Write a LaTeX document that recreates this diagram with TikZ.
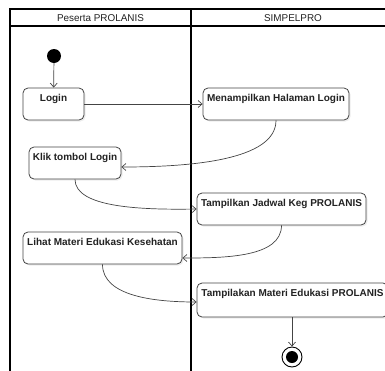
\documentclass[tikz,border=0pt]{standalone}
\usepackage{fontspec}
\setmainfont{Liberation Sans}
\usetikzlibrary{arrows.meta,shadows}
\definecolor{txt}{HTML}{222222}
\definecolor{edge}{HTML}{444444}
\tikzset{
  act/.style={draw=edge, line width=0.8pt, rounded corners=5pt, fill=white,
    drop shadow={shadow xshift=1.5pt, shadow yshift=-1.5pt, opacity=0.15},
    font=\fontsize{10}{12}\selectfont\bfseries, text=txt,
    inner xsep=2pt, inner ysep=3pt, text height=10pt, text depth=16pt},
  flow/.style={draw=edge, line width=0.7pt, -{Straight Barb[length=4pt,width=7pt]}},
  lane/.style={draw=black, line width=1.1pt},
  hdr/.style={font=\fontsize{9.9}{12}\selectfont, text=txt}
}
\begin{document}
\begin{tikzpicture}[x=1pt,y=-1pt]
\useasboundingbox (0,0) rectangle (385,370);
\clip (0,0) rectangle (385,370);
% swimlane frame
\draw[lane] (10,380) -- (10,9) -- (395,9) -- (395,380);
\draw[lane] (10,26) -- (395,26);
\draw[lane] (191,9) -- (191,380);
\node[hdr] (h1) at (100.5,18) {Peserta PROLANIS};
\node[hdr] (h2) at (293,18) {SIMPELPRO};
% nodes
\node[circle, fill=black, minimum size=14pt, inner sep=0pt] (start) at (54,56) {};
\node[act, minimum width=61pt] (login) at (53.5,104) {Login};
\node[act, minimum width=146pt] (mhl) at (276,104) {Menampilkan Halaman Login};
\node[act, minimum width=92pt] (klik) at (75,163) {Klik tombol Login};
\node[act, minimum width=169pt] (jadwal) at (281.5,209) {Tampilkan Jadwal Keg PROLANIS};
\node[act, minimum width=159pt] (lihat) at (102.5,248) {Lihat Materi Edukasi Kesehatan};
\node[act, minimum width=191pt, text depth=18pt] (materi) at (292.5,300) {Tampilakan Materi Edukasi PROLANIS};
\node[circle, draw=black, line width=0.9pt, fill=white, minimum size=20pt, inner sep=0pt] (end) at (292,357) {};
\node[circle, fill=black, minimum size=12pt, inner sep=0pt] (endin) at (end.center) {};
% flows
\draw[flow] (start) -- (login);
\draw[flow] (login) -- (mhl);
\draw[flow] (mhl.south) .. controls ([yshift=-40pt]mhl.south) and (190,167) .. ([yshift=-4pt]klik.east);
\draw[flow] (klik.south) .. controls ([yshift=-28pt]klik.south) and (140,210) .. (jadwal.west);
\draw[flow] (jadwal.south) .. controls ([yshift=-32pt]jadwal.south) and (225,258) .. ([yshift=-10pt]lihat.east);
\draw[flow] (lihat.south) .. controls ([yshift=-32pt]lihat.south) and (155,302) .. ([yshift=-2pt]materi.west);
\draw[flow] (materi.south -| end) -- (end);
\end{tikzpicture}
\end{document}
